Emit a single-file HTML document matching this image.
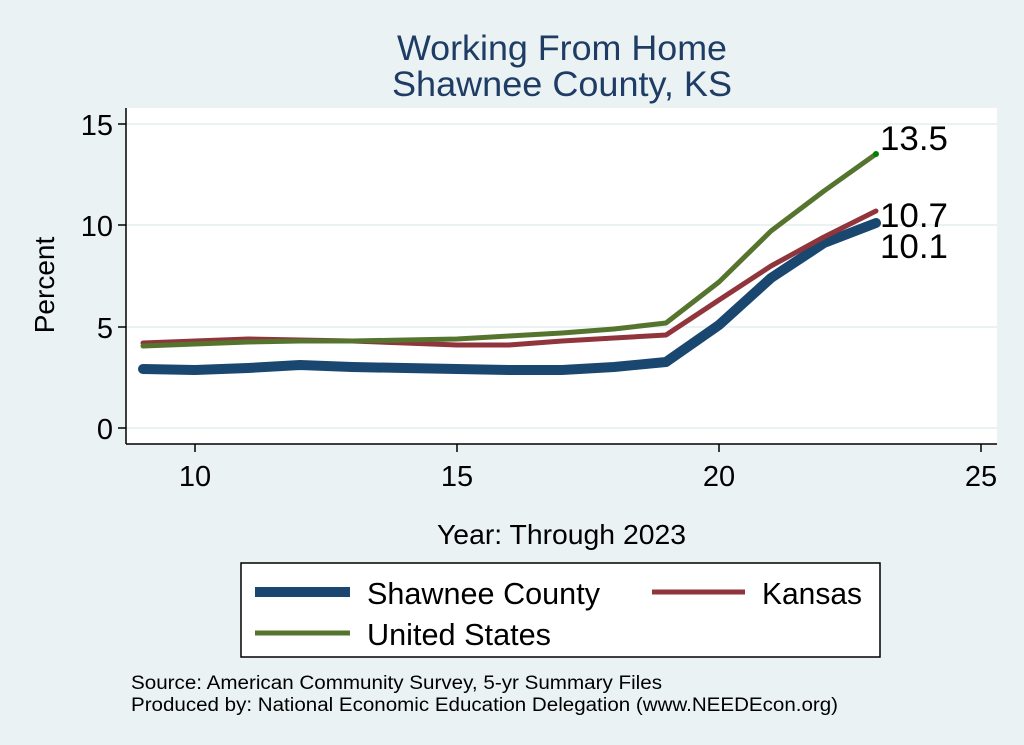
<!DOCTYPE html>
<html><head><meta charset="utf-8"><style>
body{margin:0;background:#eaf2f3;}
svg{display:block;font-family:"Liberation Sans",sans-serif;}
</style></head><body>
<svg width="1024" height="745" viewBox="0 0 1024 745">
<rect width="1024" height="745" fill="#eaf2f3"/>
<text x="397" y="60" font-size="35" fill="#1e3c64" textLength="330" lengthAdjust="spacingAndGlyphs">Working From Home</text>
<text x="392" y="96" font-size="35" fill="#1e3c64" textLength="340" lengthAdjust="spacingAndGlyphs">Shawnee County, KS</text>
<rect x="126" y="108" width="871" height="336" fill="#fff"/>
<g stroke="#eaf2f3" stroke-width="2">
<line x1="126" y1="124" x2="997" y2="124"/><line x1="126" y1="225" x2="997" y2="225"/>
<line x1="126" y1="327" x2="997" y2="327"/><line x1="126" y1="428" x2="997" y2="428"/>
</g>
<g stroke="#000" stroke-width="1.5">
<line x1="126" y1="108" x2="126" y2="444"/><line x1="126" y1="444" x2="997" y2="444"/>
<line x1="118" y1="124" x2="126" y2="124"/><line x1="118" y1="225" x2="126" y2="225"/>
<line x1="118" y1="327" x2="126" y2="327"/><line x1="118" y1="428" x2="126" y2="428"/>
<line x1="195" y1="444" x2="195" y2="452"/><line x1="457" y1="444" x2="457" y2="452"/>
<line x1="719" y1="444" x2="719" y2="452"/><line x1="981" y1="444" x2="981" y2="452"/>
</g>
<g font-size="29" fill="#000" text-anchor="end">
<text x="113" y="135">15</text><text x="113" y="236">10</text><text x="113" y="338">5</text><text x="113" y="439">0</text>
</g>
<g font-size="29" fill="#000" text-anchor="middle">
<text x="195" y="486">10</text><text x="457" y="486">15</text><text x="719" y="486">20</text><text x="981" y="486">25</text>
</g>
<text x="54" y="285" font-size="28" text-anchor="middle" transform="rotate(-90 54 285)">Percent</text>
<text x="437" y="544" font-size="28" textLength="249" lengthAdjust="spacingAndGlyphs">Year: Through 2023</text>
<g fill="none" stroke-linejoin="round" stroke-linecap="round">
<polyline stroke="#1a476f" stroke-width="10" points="143,369 195,370 248,368 300,365 352,367 405,368 457,369 509,370 562,370 614,367 666,362 719,325 771,278 824,243 876,223"/>
<polyline stroke="#90353b" stroke-width="5" points="143,343 195,341 248,339 300,340 352,341 405,343 457,345 509,345 562,341 614,338 666,335 719,300 771,266 824,237 876,211"/>
<polyline stroke="#55752f" stroke-width="5" points="143,346 195,344 248,342 300,341 352,341 405,340 457,339 509,336 562,333 614,329 666,323 719,282 771,231 824,191 876,154"/>
</g>
<circle cx="876" cy="154" r="3" fill="#008000"/>
<g font-size="34" fill="#000">
<text x="880" y="150" textLength="68" lengthAdjust="spacingAndGlyphs">13.5</text>
<text x="880" y="227" textLength="68" lengthAdjust="spacingAndGlyphs">10.7</text>
<text x="880" y="258" textLength="68" lengthAdjust="spacingAndGlyphs">10.1</text>
</g>
<rect x="241" y="563" width="639" height="94" fill="#fff" stroke="#000" stroke-width="1.5"/>
<line x1="255" y1="592" x2="350" y2="592" stroke="#1a476f" stroke-width="10"/>
<line x1="652" y1="592" x2="745" y2="592" stroke="#90353b" stroke-width="5"/>
<line x1="255" y1="633" x2="350" y2="633" stroke="#55752f" stroke-width="5"/>
<g font-size="31" fill="#000">
<text x="367" y="604" textLength="233" lengthAdjust="spacingAndGlyphs">Shawnee County</text>
<text x="762" y="604" textLength="100" lengthAdjust="spacingAndGlyphs">Kansas</text>
<text x="367" y="645" textLength="184" lengthAdjust="spacingAndGlyphs">United States</text>
</g>
<g font-size="19" fill="#000">
<text x="131" y="689" textLength="531" lengthAdjust="spacingAndGlyphs">Source: American Community Survey, 5-yr Summary Files</text>
<text x="131" y="711" textLength="707" lengthAdjust="spacingAndGlyphs">Produced by: National Economic Education Delegation (www.NEEDEcon.org)</text>
</g>
</svg>
</body></html>
